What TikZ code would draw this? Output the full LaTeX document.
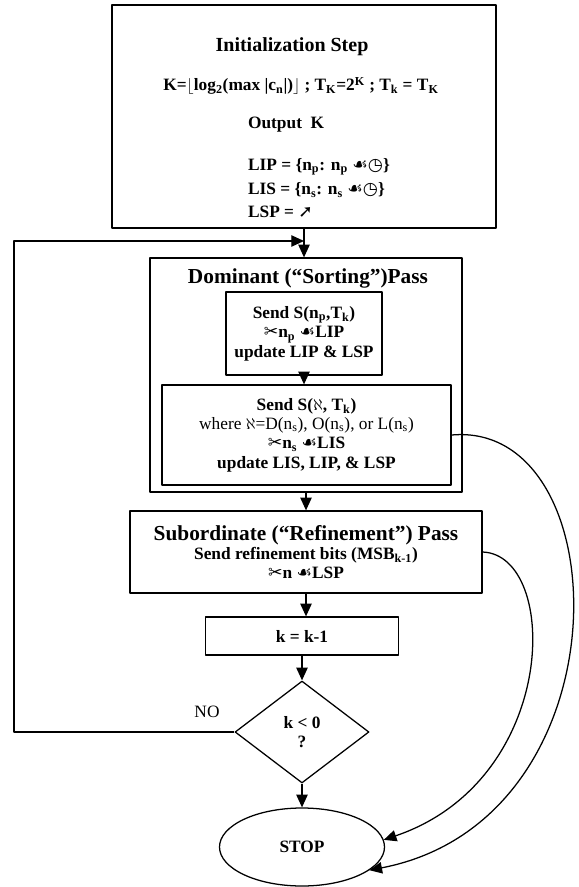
\documentclass[tikz,border=0pt]{standalone}
\usepackage{fontspec}
\setmainfont{Liberation Serif}
\newfontfamily\dingfont{DejaVu Sans}
\usetikzlibrary{shapes.geometric,arrows.meta}
\newcommand{\lo}[1]{\textsubscript{#1}}
\newcommand{\scis}{{\dingfont ✂}}
\newcommand{\leaf}{{\dingfont ☙}}
\newcommand{\clock}{{\dingfont ◷}}
\newcommand{\nullarrow}{{\dingfont ➚}}
\begin{document}
\begin{tikzpicture} [x=0.75pt, y=-0.75pt, line width=0.95pt, line join=round,
 font=\fontsize{13}{14.5}\selectfont\bfseries, >={Triangle[length=9.5pt,width=8.5pt]},
 box/.style={draw, rectangle, inner sep=0pt, align=center},
 titletext/.style={font=\fontsize{16}{17}\selectfont\bfseries}]
 \useasboundingbox (0,0) rectangle (578,887);
 % initialization
 \node[box, minimum width=288pt, minimum height=167.25pt] (init) at (304,116.5) {};
 \node[titletext, font=\fontsize{15}{16}\selectfont\bfseries] (inittitle) at (292,47) {Initialization Step};
 \node (kline) at (301,86) {K=$\lfloor$log\lo{2}(max |c\lo{n}|)$\rfloor$ ; T\lo{K}=2\textsuperscript{K} ; T\lo{k} = T\lo{K}};
 \node[anchor=west] (outk) at (243,125) {Output\ \ K};
 \node[anchor=west] (lip) at (243,167) {LIP = \{n\lo{p}: n\lo{p} \leaf\clock\}};
 \node[anchor=west] (lis) at (243,190) {LIS = \{n\lo{s}: n\lo{s} \leaf\clock\}};
 \node[anchor=west] (lsp) at (243,212) {LSP = \nullarrow};
 % sorting pass
 \node[box, minimum width=234pt, minimum height=175.5pt] (dom) at (306,375) {};
 \node[titletext] (domtitle) at (308,278) {Dominant (“Sorting”)Pass};
 \node[box, minimum width=117pt, minimum height=62.25pt] (sendp) at (304,333.5)
 {Send S(n\lo{p},T\lo{k})\\ \scis n\lo{p} \leaf LIP\\ update LIP \& LSP};
 \node[box, minimum width=216.75pt, minimum height=75pt] (sends) at (306.5,435)
 {Send S($\aleph$, T\lo{k})\\ {\mdseries where $\aleph$=D(n\lo{s}), O(n\lo{s}), or L(n\lo{s})}\\ \scis n\lo{s} \leaf LIS\\ update LIS, LIP, \& LSP};
 % refinement pass and test
 \node[box, minimum width=264pt, minimum height=61.5pt] (refine) at (306,552)
 {{\fontsize{16}{17}\selectfont Subordinate (“Refinement”) Pass}\\ Send refinement bits (MSB\lo{k-1})\\ \scis n \leaf LSP};
 \node[box, minimum width=144.75pt, minimum height=28.5pt] (dec) at (302,636) {k = k-1};
 \node[draw, diamond, minimum width=100.5pt, minimum height=76.5pt, inner sep=0pt, align=center] (test) at (302,732) {k < 0\\?};
 \node[draw, ellipse, minimum width=123.75pt, minimum height=58.5pt] (stop) at (302,847) {STOP};
 \node[font=\fontsize{13}{14.5}\selectfont] (no) at (207,712) {NO};
 \coordinate (loopcorner) at (14,241);
 \draw[->] (init.south) -- (init.south |- dom.north);
 \draw[->] (sendp.south) -- (sendp.south |- sends.north);
 \draw[->] (dom.south) -- (dom.south |- refine.north);
 \draw[->] (refine.south) -- (refine.south |- dec.north);
 \draw[->] (dec.south) -- (test.north);
 \draw[->] (test.south) -- (stop.north);
 \draw[->] (test.west) -| (loopcorner) -- (loopcorner -| init.south);
 \draw[->] (sends.east) .. controls (620,420) and (630,820) .. (stop.-19);
 \draw[->] (refine.east) .. controls (560,555) and (560,780) .. (stop.5);
\end{tikzpicture}
\end{document}
